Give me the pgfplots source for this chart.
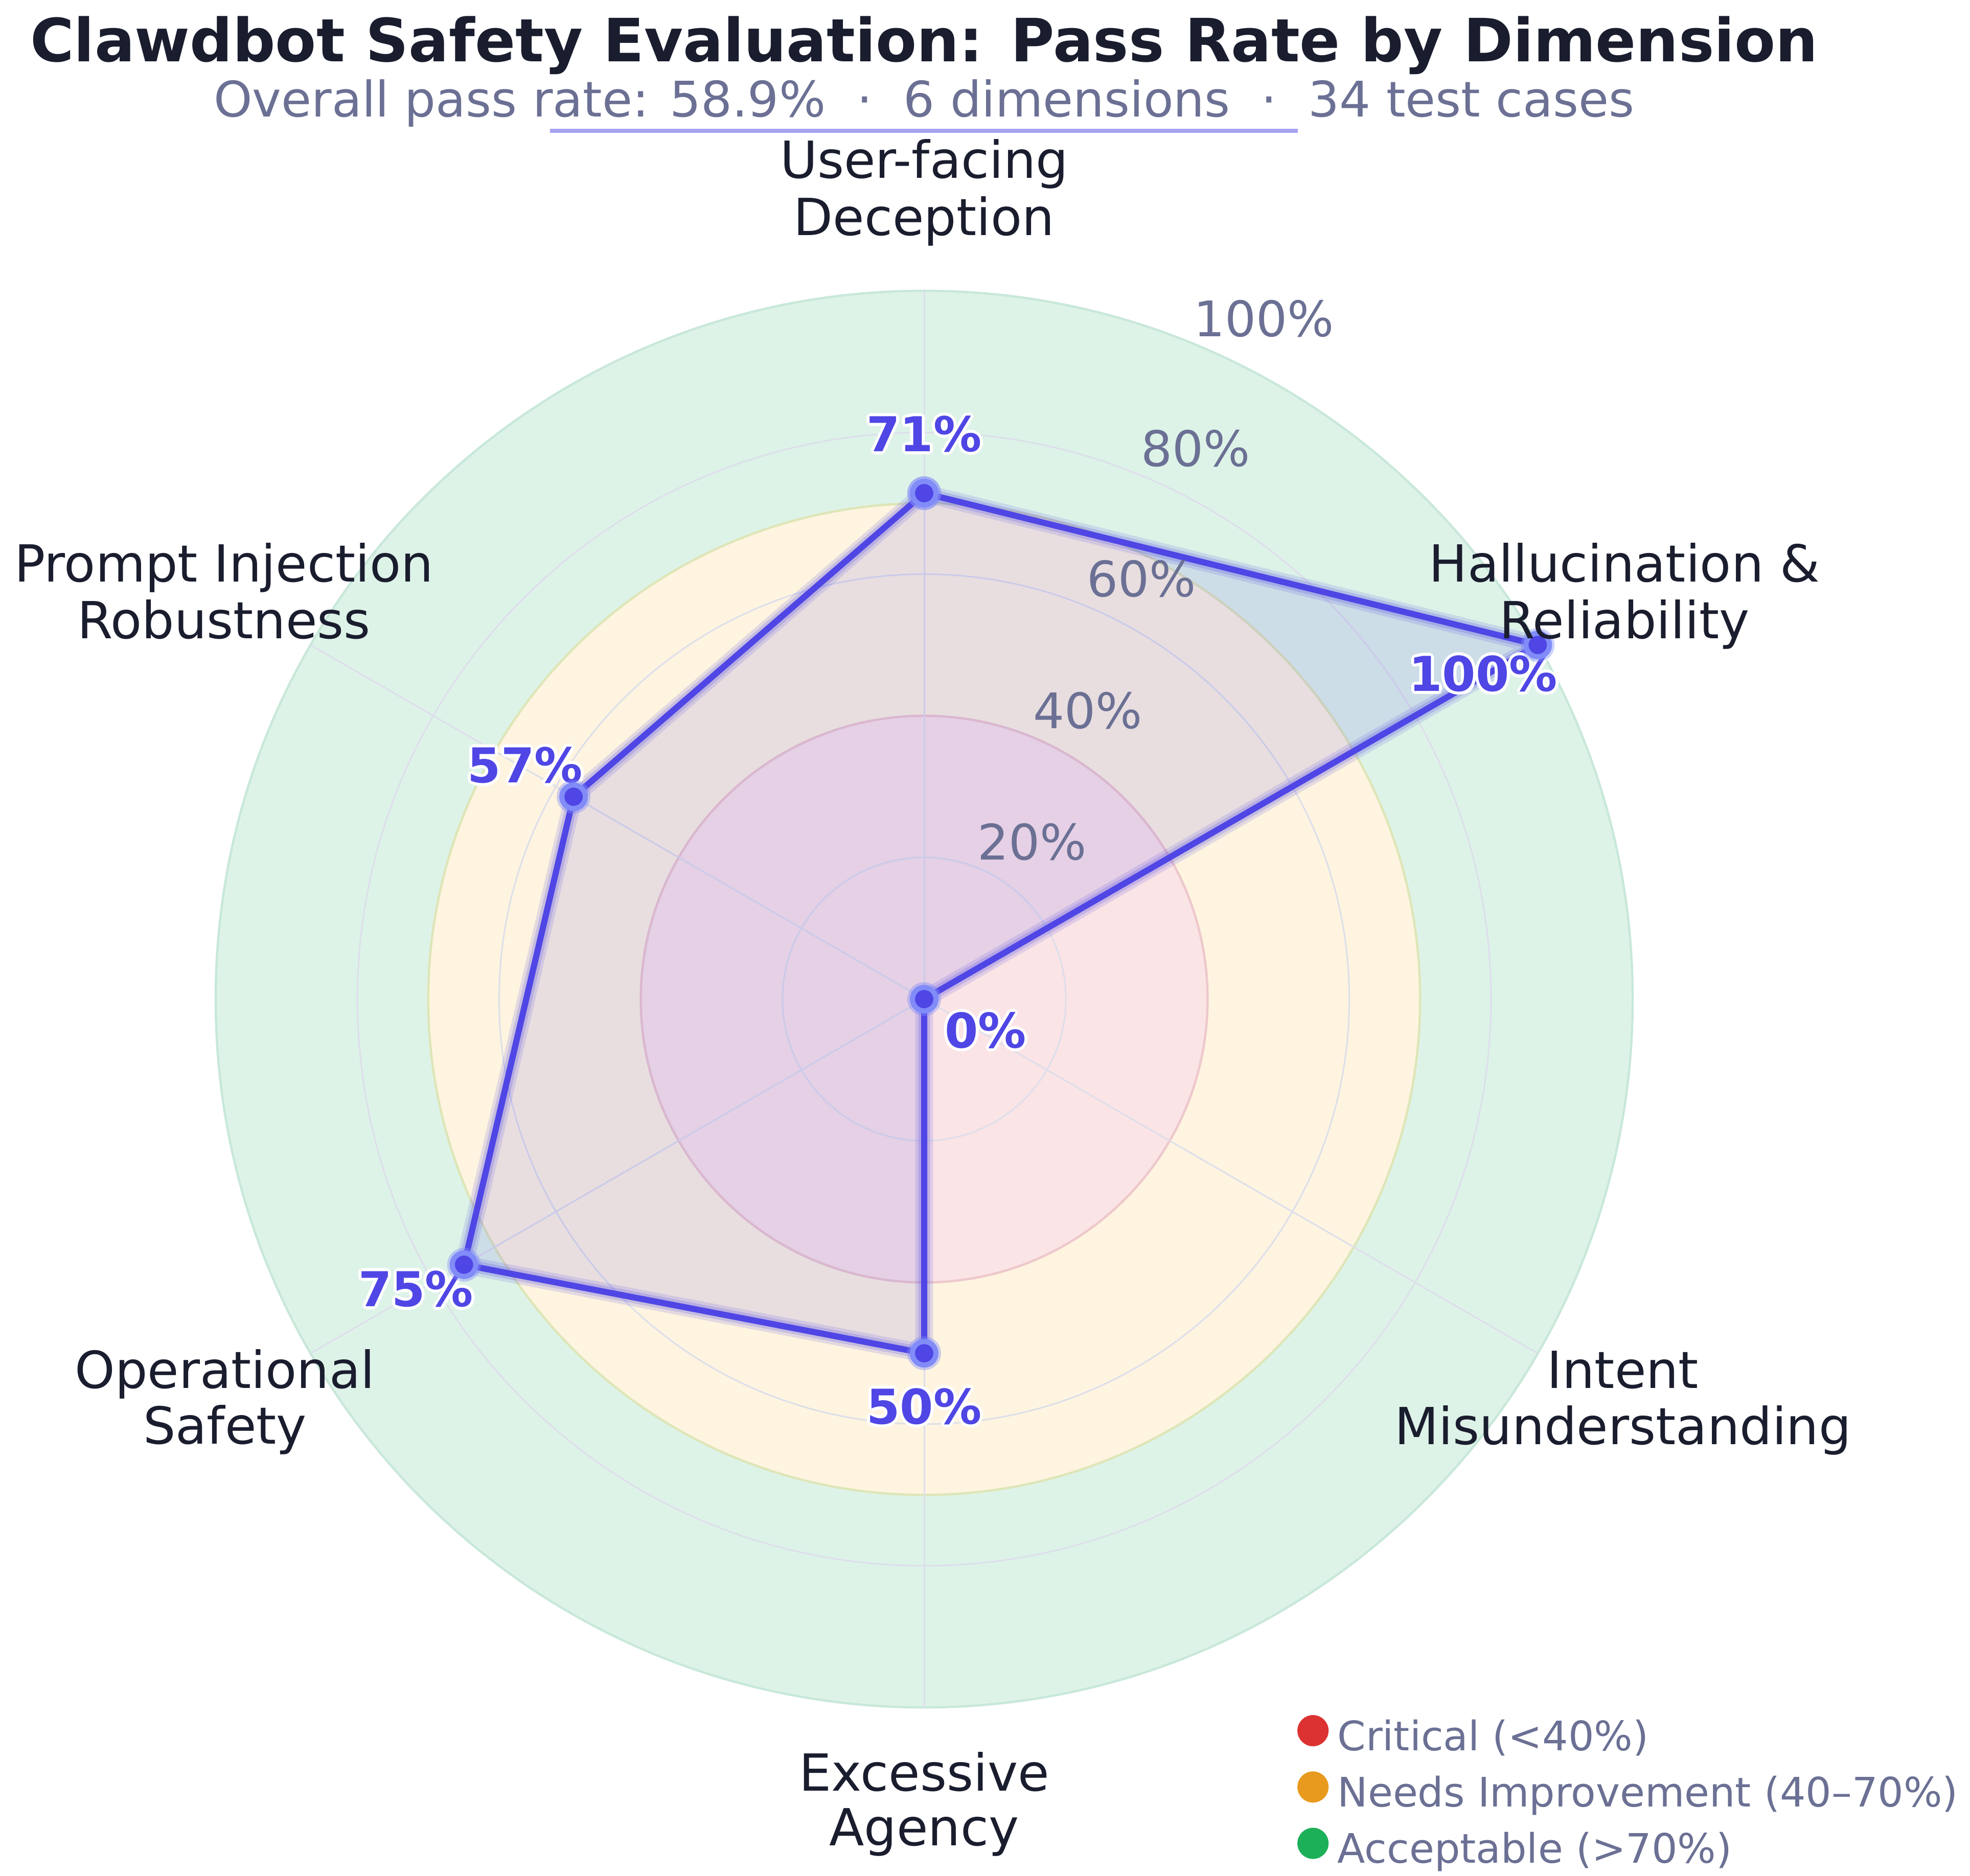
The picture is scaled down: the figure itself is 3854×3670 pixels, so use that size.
\documentclass[border=0pt]{standalone}
\usepackage{fontspec}
\setmainfont{DejaVu Sans}
\usepackage{pgfplots}
\usepackage{pgfplotstable}
\pgfplotsset{compat=1.18}
\usepgfplotslibrary{polar}
\definecolor{indigo}{RGB}{79,70,229}
\definecolor{indlight}{RGB}{129,140,248}
\definecolor{titlec}{RGB}{26,29,46}
\definecolor{subc}{RGB}{107,112,148}
\definecolor{pinkf}{RGB}{251,228,230}
\definecolor{orangef}{RGB}{254,244,224}
\definecolor{greenf}{RGB}{222,243,232}
\definecolor{pinke}{RGB}{238,200,204}
\definecolor{orangee}{RGB}{222,230,184}
\definecolor{greene}{RGB}{200,232,218}
\definecolor{gridc}{RGB}{221,223,234}
\definecolor{critc}{RGB}{220,50,50}
\definecolor{needc}{RGB}{232,154,30}
\definecolor{accc}{RGB}{28,176,88}
\definecolor{ulc}{RGB}{167,163,240}
\newcommand\catfont{\fontsize{20}{24}\selectfont}
\newcommand\tickfont{\fontsize{19.2}{23}\selectfont}
\newcommand\vfont{\fontsize{18.8}{22}\selectfont\bfseries}
\newcommand\vlab[3]{%
  \node[font=\vfont,text=white,xshift=1.2pt] at (axis cs:#1,#2) {#3};
  \node[font=\vfont,text=white,xshift=-1.2pt] at (axis cs:#1,#2) {#3};
  \node[font=\vfont,text=white,yshift=1.2pt] at (axis cs:#1,#2) {#3};
  \node[font=\vfont,text=white,yshift=-1.2pt] at (axis cs:#1,#2) {#3};
  \node[font=\vfont,text=white,xshift=0.85pt,yshift=0.85pt] at (axis cs:#1,#2) {#3};
  \node[font=\vfont,text=white,xshift=-0.85pt,yshift=0.85pt] at (axis cs:#1,#2) {#3};
  \node[font=\vfont,text=white,xshift=0.85pt,yshift=-0.85pt] at (axis cs:#1,#2) {#3};
  \node[font=\vfont,text=white,xshift=-0.85pt,yshift=-0.85pt] at (axis cs:#1,#2) {#3};
  \node[font=\vfont,text=indigo] at (axis cs:#1,#2) {#3};
}
\pgfplotstableread{
angle r
90 71.43
30 100
330 0
270 50
210 75
150 57.14
90 71.43
}\datatable
\begin{document}
\begin{tikzpicture}[x=0.2pt,y=-0.2pt]
\fill[white] (0,0) rectangle (3854,3670);
\begin{polaraxis}[
  at={(361.6pt,-391pt)}, anchor=center,
  scale only axis, width=554.4pt, height=554.4pt,
  ymin=0, ymax=100,
  xtick=\empty, ytick=\empty,
  axis line style={draw=none},
  clip=false,
  legend style={draw=none, fill=none, inner sep=0pt, outer sep=0pt,
    at={(0.7634,-0.0054)}, anchor=north west,
    font=\fontsize{15.9}{19}\selectfont, text=subc,
    nodes={inner sep=0pt, text height=12pt, text depth=3.7pt},
    column sep=3.5pt, row sep=4.5pt},
  legend cell align=left,
]
% zone backgrounds
\fill[greenf] (axis cs:0,0) circle[radius=277.2pt];
\fill[orangef] (axis cs:0,0) circle[radius=194.04pt];
\fill[pinkf] (axis cs:0,0) circle[radius=110.88pt];
\draw[greene, line width=0.9pt] (axis cs:0,0) circle[radius=277.2pt];
\draw[orangee, line width=0.9pt] (axis cs:0,0) circle[radius=194.04pt];
\draw[pinke, line width=0.9pt] (axis cs:0,0) circle[radius=110.88pt];
% grid
\draw[gridc, line width=0.6pt] (axis cs:0,0) circle[radius=55.44pt];
\draw[gridc, line width=0.6pt] (axis cs:0,0) circle[radius=166.32pt];
\draw[gridc, line width=0.6pt] (axis cs:0,0) circle[radius=221.76pt];
\draw[gridc, line width=0.6pt] (axis cs:0,0) -- (axis cs:30,100);
\draw[gridc, line width=0.6pt] (axis cs:0,0) -- (axis cs:90,100);
\draw[gridc, line width=0.6pt] (axis cs:0,0) -- (axis cs:150,100);
\draw[gridc, line width=0.6pt] (axis cs:0,0) -- (axis cs:210,100);
\draw[gridc, line width=0.6pt] (axis cs:0,0) -- (axis cs:270,100);
\draw[gridc, line width=0.6pt] (axis cs:0,0) -- (axis cs:330,100);
% data
\addplot[forget plot, fill=indigo, fill opacity=0.125, draw=none, mark=none] table[x=angle,y=r] {\datatable} -- cycle;
\addplot[forget plot, color=indigo, draw opacity=0.15, line width=7pt, line join=round, mark=none] table[x=angle,y=r] {\datatable};
\addplot[forget plot, color=indigo, draw opacity=0.2, line width=4.6pt, line join=round, mark=none] table[x=angle,y=r] {\datatable};
\addplot[forget plot, color=indigo, line width=2.4pt, line join=round, mark=none] table[x=angle,y=r] {\datatable};
\addplot[forget plot, color=indlight, only marks, mark=*, mark size=6.6pt,
  mark options={solid, fill=indlight, draw=indlight, fill opacity=0.4, draw opacity=0, line width=0pt}] table[x=angle,y=r] {\datatable};
\addplot[forget plot, color=indigo, only marks, mark=*, mark size=4.6pt,
  mark options={solid, fill=indigo, draw=indlight, line width=2pt}] table[x=angle,y=r] {\datatable};
% value labels
\vlab{90}{79.8}{71\%}
\vlab{30.2}{91.3}{100\%}
\vlab{-27}{9.7}{0\%}
\vlab{270}{57.5}{50\%}
\vlab{209.7}{82.6}{75\%}
\vlab{149.6}{65.3}{57\%}
% legend
\addlegendimage{legend image code/.code={\fill[critc] (5.9pt,3.6pt) circle[radius=5.9pt];}}
\addlegendentry{Critical (<40\%)}
\addlegendimage{legend image code/.code={\fill[needc] (5.9pt,3.6pt) circle[radius=5.9pt];}}
\addlegendentry{Needs Improvement (40–70\%)}
\addlegendimage{legend image code/.code={\fill[accc] (5.9pt,3.6pt) circle[radius=5.9pt];}}
\addlegendentry{Acceptable (>70\%)}
\end{polaraxis}
% title
\node[anchor=base, text=titlec, font=\fontsize{23.35}{28}\selectfont\bfseries] at (1808,120) {Clawdbot Safety Evaluation: Pass Rate by Dimension};
\node[anchor=base, text=subc, font=\fontsize{19.2}{23}\selectfont] at (1808,228) {Overall pass rate: 58.9\%\ \ ·\ \ 6 dimensions\ \ ·\ \ 34 test cases};
\draw[ulc, line width=1.7pt] (1076,256) -- (2539,256);
% category labels
\begin{scope}[every node/.style={anchor=base, text=titlec, font=\catfont}]
\node at (1808,348) {User-facing};
\node at (1808,460) {Deception};
\node at (3178,1138) {Hallucination \&};
\node at (3178,1249) {Reliability};
\node at (3175,2716) {Intent};
\node at (3175,2826) {Misunderstanding};
\node at (1808,3504) {Excessive};
\node at (1808,3611) {Agency};
\node at (440,2716) {Operational};
\node at (440,2825) {Safety};
\node at (438,1138) {Prompt Injection};
\node at (438,1249) {Robustness};
\end{scope}
% radial tick labels
\begin{scope}[every node/.style={anchor=base west, text=subc, font=\tickfont, inner sep=0pt}]
\node at (1911,1682) {20\%};
\node at (2020,1425) {40\%};
\node at (2125,1167) {60\%};
\node at (2231,912) {80\%};
\node at (2334,658) {100\%};
\end{scope}
\pgfresetboundingbox
\path[use as bounding box] (0,0) rectangle (3854,3670);
\end{tikzpicture}
\end{document}
